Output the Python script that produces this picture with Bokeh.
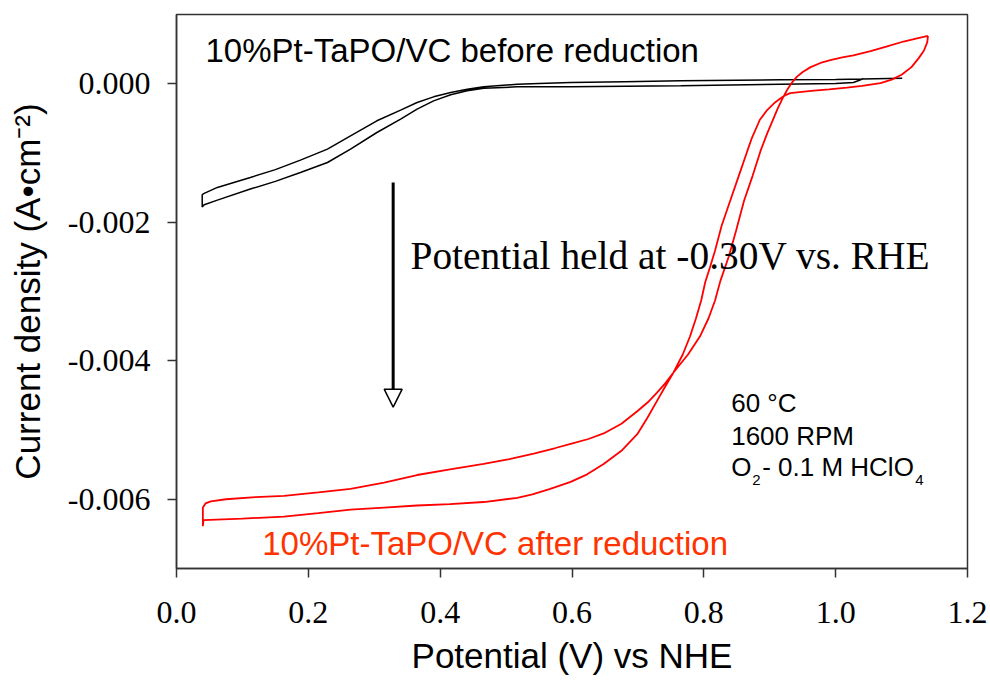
from bokeh.plotting import figure
from bokeh.models import Range1d, FixedTicker, NumeralTickFormatter, Label, Arrow, NormalHead
from bokeh.embed import file_html
from bokeh.resources import INLINE

# ---- data (potential V vs NHE, current density A/cm2) ----
x_ticks = [0.0, 0.2, 0.4, 0.6, 0.8, 1.0, 1.2]
y_ticks = [-0.006, -0.004, -0.002, 0.0]

# before reduction: sweep from high to low potential (upper trace)
black_scan1_v = [1.101, 1.000, 0.916, 0.765, 0.680, 0.598, 0.550, 0.517, 0.466, 0.441, 0.416,
                 0.390, 0.365, 0.340, 0.304, 0.264, 0.229, 0.188, 0.150, 0.112, 0.062, 0.042, 0.039, 0.039]
black_scan1_j = [0.000080, 0.000062, 0.000056, 0.000042, 0.000030, 0.000017, 0.000004, -0.000006,
                 -0.000045, -0.000078, -0.000127, -0.000189, -0.000271, -0.000381, -0.000535,
                 -0.000752, -0.000944, -0.001103, -0.001240, -0.001353, -0.001497, -0.001584,
                 -0.001600, -0.001780]
# before reduction: sweep from low to high potential (lower trace)
black_scan2_v = [0.039, 0.042, 0.062, 0.112, 0.150, 0.188, 0.229, 0.264, 0.304, 0.340, 0.365, 0.390,
                 0.416, 0.441, 0.466, 0.517, 0.598, 0.765, 0.916, 1.000, 1.027, 1.036, 1.042]
black_scan2_j = [-0.001780, -0.001748, -0.001680, -0.001521, -0.001410, -0.001281, -0.001137,
                 -0.000944, -0.000704, -0.000511, -0.000367, -0.000247, -0.000160, -0.000102,
                 -0.000064, -0.000045, -0.000045, -0.000030, -0.000006, 0.000005, 0.000017,
                 0.000050, 0.000075]

# after reduction: cathodic sweep (1.14 V -> 0.04 V)
red_cath_v = [1.140, 1.139, 1.134, 1.126, 1.115, 1.100, 1.085, 1.068, 1.040, 1.017, 0.990, 0.967,
              0.945, 0.931, 0.925, 0.918, 0.908, 0.896, 0.885, 0.873, 0.866, 0.853, 0.840, 0.827,
              0.817, 0.809, 0.802, 0.796, 0.788, 0.779, 0.768, 0.754, 0.741, 0.729, 0.714, 0.699,
              0.675, 0.648, 0.623, 0.598, 0.567, 0.540, 0.517, 0.466, 0.415, 0.365, 0.315, 0.264,
              0.215, 0.163, 0.100, 0.041, 0.040]
red_cath_j = [0.00069, 0.00060, 0.00048, 0.00037, 0.00024, 0.00013, 0.00006, 0.00001, -0.00003,
              -0.000055, -0.00008, -0.00010, -0.00012, -0.000136, -0.00016, -0.00020, -0.00027,
              -0.00038, -0.00052, -0.00078, -0.00097, -0.00133, -0.00169, -0.00205, -0.00241,
              -0.00266, -0.00287, -0.00313, -0.00339, -0.00365, -0.00391, -0.00417, -0.00438,
              -0.00458, -0.00483, -0.00506, -0.00530, -0.00549, -0.00564, -0.00575, -0.00585,
              -0.00593, -0.00598, -0.00604, -0.00607, -0.00609, -0.00612, -0.00615, -0.00620,
              -0.00625, -0.00628, -0.00630, -0.00639]
# after reduction: anodic sweep (0.04 V -> 1.14 V)
red_anod_v = [0.040, 0.040, 0.044, 0.052, 0.075, 0.120, 0.163, 0.215, 0.264, 0.315, 0.365, 0.415,
              0.466, 0.505, 0.542, 0.575, 0.598, 0.625, 0.648, 0.675, 0.699, 0.715, 0.729, 0.742,
              0.754, 0.776, 0.794, 0.807, 0.817, 0.825, 0.838, 0.849, 0.861, 0.874, 0.886, 0.896,
              0.904, 0.912, 0.920, 0.927, 0.934, 0.941, 0.950, 0.962, 0.977, 0.992, 1.010, 1.027,
              1.053, 1.078, 1.103, 1.125, 1.140]
red_anod_j = [-0.00639, -0.00612, -0.00606, -0.00603, -0.00600, -0.00597, -0.00595, -0.00590,
              -0.00585, -0.00576, -0.00565, -0.00557, -0.00549, -0.00542, -0.00534, -0.00526,
              -0.00520, -0.00513, -0.00505, -0.00491, -0.00473, -0.00460, -0.00446, -0.00432,
              -0.00417, -0.00391, -0.00365, -0.00339, -0.00313, -0.00285, -0.00249, -0.00212,
              -0.00169, -0.00133, -0.00097, -0.00072, -0.00054, -0.00036, -0.00020, -0.00008,
              0.00002, 0.00010, 0.00017, 0.00024, 0.00030, 0.00034, 0.00038, 0.00041, 0.00047,
              0.00054, 0.00061, 0.00066, 0.00069]

p = figure(frame_width=791, frame_height=554,
           x_range=Range1d(0.0, 1.2), y_range=Range1d(-0.007, 0.001),
           output_backend="svg", toolbar_location=None,
           min_border_left=176, min_border_right=21, min_border_top=14, min_border_bottom=110,
           background_fill_color="white", border_fill_color="white")

p.xgrid.visible = False
p.ygrid.visible = False
p.outline_line_color = "#333333"
p.outline_line_width = 1.5

for ax in (p.xaxis[0], p.yaxis[0]):
    ax.axis_line_color = "#333333"
    ax.axis_line_width = 1.5
    ax.major_tick_line_color = "#333333"
    ax.major_tick_line_width = 1.5
    ax.major_tick_out = 9
    ax.major_tick_in = 0
    ax.minor_tick_line_color = None
    ax.major_label_text_font = "Liberation Serif"
    ax.major_label_text_font_size = "32px"
    ax.major_label_text_color = "black"
    ax.axis_label_text_font = "Liberation Sans"
    ax.axis_label_text_font_style = "normal"
    ax.axis_label_text_color = "black"

p.xaxis.ticker = FixedTicker(ticks=x_ticks)
p.yaxis.ticker = FixedTicker(ticks=y_ticks)
p.xaxis.formatter = NumeralTickFormatter(format="0.0")
p.yaxis.formatter = NumeralTickFormatter(format="0.000")
p.xaxis.major_label_standoff = 24
p.yaxis.major_label_standoff = 17
p.xaxis.axis_label = "Potential (V) vs NHE"
p.yaxis.axis_label = "Current density (A\u2022cm\u207b\u00b2)"
p.xaxis.axis_label_text_font_size = "35px"
p.yaxis.axis_label_text_font_size = "35px"
p.xaxis.axis_label_standoff = 10
p.yaxis.axis_label_standoff = 18

# curves
p.line(black_scan1_v + black_scan2_v, black_scan1_j + black_scan2_j,
       line_color="black", line_width=1.5)
p.line(red_cath_v + red_anod_v, red_cath_j + red_anod_j,
       line_color="#ff0000", line_width=1.8)

# arrow
p.add_layout(Arrow(end=NormalHead(size=18, fill_color="white", line_color="black", line_width=1.5),
                   x_start=0.3287, y_start=-0.001425, x_end=0.3287, y_end=-0.00467,
                   line_color="black", line_width=3))

def lab(text, x, y, font, size, color="black", x_offset=0, y_offset=0.0):
    # text is drawn centred on its anchor; lift it so that y is the baseline
    px = float(size.replace("px", ""))
    p.add_layout(Label(x=x, y=y, text=text, text_font=font, text_font_size=size,
                       text_color=color, text_baseline="alphabetic", text_align="left",
                       x_offset=x_offset, y_offset=y_offset + 0.33 * px))

lab("10%Pt-TaPO/VC before reduction", 0.044, 0.00033, "Liberation Sans", "33px")
lab("10%Pt-TaPO/VC after reduction", 0.130, -0.006798, "Liberation Sans", "33px", color="#ff3300")
lab("Potential held at -0.30V vs. RHE", 0.355, -0.002675, "Liberation Serif", "39.4px")
lab("60 \u00b0C", 0.8415, -0.004734, "Liberation Sans", "26px")
lab("1600 RPM", 0.8415, -0.005211, "Liberation Sans", "26px")
lab("O", 0.8415, -0.005658, "Liberation Sans", "26px")
lab("2", 0.8415, -0.005658, "Liberation Sans", "15px", x_offset=21, y_offset=-9)
lab("- 0.1 M HClO", 0.8415, -0.005658, "Liberation Sans", "26px", x_offset=31)
lab("4", 0.8415, -0.005658, "Liberation Sans", "15px", x_offset=184, y_offset=-9)

open("out.html", "w").write(file_html(p, INLINE))
